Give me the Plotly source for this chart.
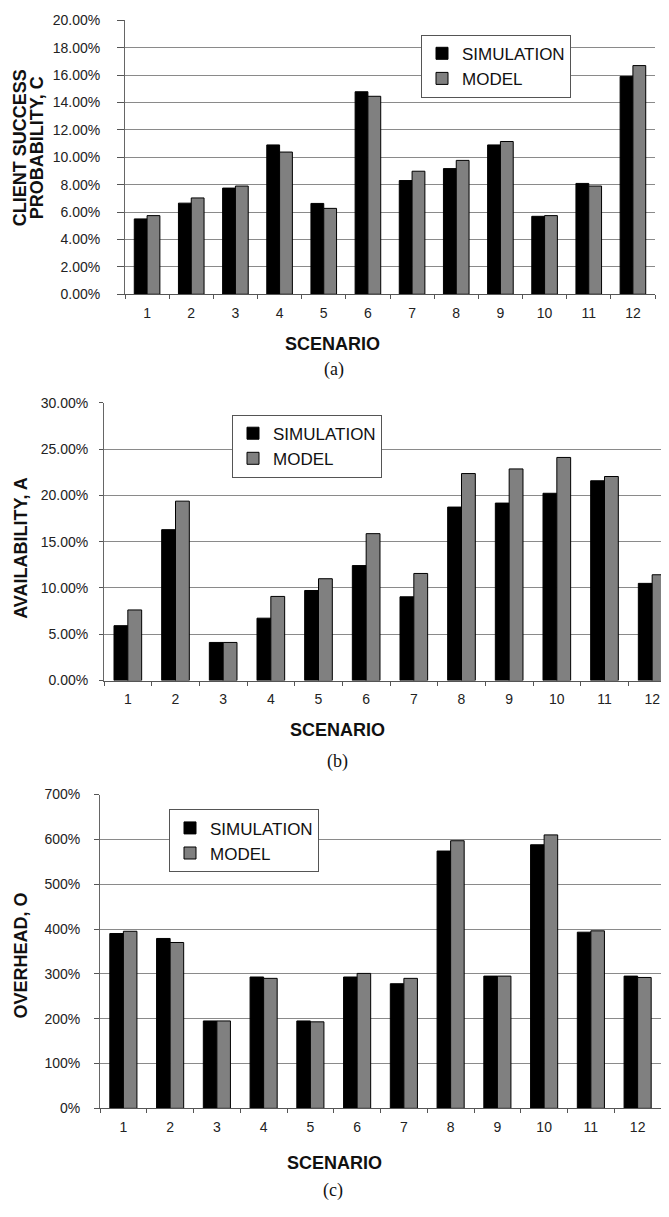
import plotly.graph_objects as go

# page body has an 8px default margin, so the figure is sized to fill the window from there
OFF = 8
W, H = 669 - OFF, 1217 - OFF

scenarios = [str(i) for i in range(1, 13)]

# (a) client success probability, C (%)
succ_sim = [5.5, 6.65, 7.75, 10.9, 6.63, 14.78, 8.3, 9.17, 10.9, 5.69, 8.09, 15.9]
succ_model = [5.74, 7.03, 7.9, 10.38, 6.27, 14.45, 8.98, 9.77, 11.15, 5.74, 7.9, 16.69]

# (b) availability, A (%)
avail_sim = [5.93, 16.3, 4.12, 6.74, 9.73, 12.42, 9.05, 18.74, 19.17, 20.23, 21.58, 10.5]
avail_model = [7.63, 19.38, 4.12, 9.09, 11.0, 15.87, 11.57, 22.36, 22.86, 24.1, 22.04, 11.43]

# (c) overhead, O (%)
over_sim = [390, 379, 195, 293, 195, 293, 278, 574, 295, 588, 393, 295]
over_model = [395, 370, 195, 290, 193, 301, 290, 597, 295, 610, 396, 292]

SIM_COLOR = "#000000"
MODEL_COLOR = "#808080"
TXT = "#222222"
FONT = "Liberation Sans, Arial, sans-serif"
SERIF = "Liberation Serif, Times New Roman, serif"


def px_x(p):
    return (p - OFF) / W


def px_y(p):
    return 1 - (p - OFF) / H


fig = go.Figure()

panels = [
    dict(sim=succ_sim, model=succ_model, x0=125, x1=655, y0=12.3, y1=290,
         rng=[0, 20], dtick=2, fmt=".2f", leg=(421, 27), ticklen=7, ystand=14,
         xrange=[-0.5, 11.5]),
    dict(sim=avail_sim, model=avail_model, x0=104, x1=669, y0=400, y1=681.5,
         rng=[0, 30], dtick=5, fmt=".2f", leg=(232, 412), ticklen=4, ystand=8,
         xrange=[-0.5, 11.5 - 7 / 47.7]),
    dict(sim=over_sim, model=over_model, x0=100, x1=661, y0=797, y1=1115,
         rng=[0, 700], dtick=100, fmt="d", leg=(169, 812), ticklen=5, ystand=11,
         xrange=[-0.5, 11.5]),
]

for i, p in enumerate(panels):
    n = "" if i == 0 else str(i + 1)
    xa = "x" + n
    ya = "y" + n
    lg = "legend" + n
    fig.add_trace(go.Bar(x=scenarios, y=p["sim"], name="SIMULATION", xaxis=xa, yaxis=ya,
                         marker=dict(color=SIM_COLOR, line=dict(color="#000000", width=1)),
                         legend=lg))
    fig.add_trace(go.Bar(x=scenarios, y=p["model"], name="MODEL", xaxis=xa, yaxis=ya,
                         marker=dict(color=MODEL_COLOR, line=dict(color="#000000", width=1)),
                         legend=lg))
    fig.layout["xaxis" + n] = dict(
        domain=[px_x(p["x0"]), min(1.0, px_x(p["x1"]))], anchor=ya, type="category",
        range=p["xrange"], showgrid=False, showline=True, linecolor="#555555", linewidth=1,
        ticks="outside", tickson="boundaries", ticklen=4, tickcolor="#555555",
        tickfont=dict(family=FONT, size=14, color=TXT), ticklabelstandoff=6,
        fixedrange=True,
    )
    fig.layout["yaxis" + n] = dict(
        domain=[px_y(p["y1"]), px_y(p["y0"])], anchor=xa, range=p["rng"], dtick=p["dtick"],
        tickformat=p["fmt"], ticksuffix="%", showgrid=True, gridcolor="#8a8a8a", gridwidth=1,
        showline=True, linecolor="#666666", linewidth=1, zeroline=False,
        ticks="outside", ticklen=p["ticklen"], tickcolor="#555555",
        tickfont=dict(family=FONT, size=14, color=TXT), ticklabelstandoff=p["ystand"],
        fixedrange=True,
    )
    fig.layout[lg] = dict(
        x=px_x(p["leg"][0]), y=px_y(p["leg"][1]), xanchor="left", yanchor="top",
        bgcolor="#ffffff", bordercolor="#555555", borderwidth=1,
        font=dict(family=FONT, size=17, color="#111111"),
        itemwidth=30, tracegroupgap=0,
    )

annos = [
    dict(text="<b>SCENARIO</b>", x=332, y=340, size=18, fam=FONT, ang=0),
    dict(text="(a)", x=334, y=366, size=18, fam=SERIF, ang=0),
    dict(text="<b>SCENARIO</b>", x=337, y=732, size=18, fam=FONT, ang=0),
    dict(text="(b)", x=337, y=764, size=18, fam=SERIF, ang=0),
    dict(text="<b>SCENARIO</b>", x=334, y=1170, size=18, fam=FONT, ang=0),
    dict(text="(c)", x=333, y=1198, size=18, fam=SERIF, ang=0),
    dict(text="<b>CLIENT SUCCESS</b>", x=20, y=142, size=18, fam=FONT, ang=-90),
    dict(text="<b>PROBABILITY, C</b>", x=37, y=142, size=18, fam=FONT, ang=-90),
    dict(text="<b>AVAILABILITY, A</b>", x=21, y=547, size=18, fam=FONT, ang=-90),
    dict(text="<b>OVERHEAD, O</b>", x=21, y=960, size=18, fam=FONT, ang=-90),
]
for a in annos:
    fig.add_annotation(text=a["text"], x=px_x(a["x"]), y=px_y(a["y"]), xref="paper", yref="paper",
                       xanchor="center", yanchor="middle", showarrow=False, textangle=a["ang"],
                       font=dict(family=a["fam"], size=a["size"], color="#111111"))

fig.update_layout(
    width=W, height=H, margin=dict(l=0, r=0, t=0, b=0),
    paper_bgcolor="#ffffff", plot_bgcolor="#ffffff",
    barmode="group", bargap=0.42, bargroupgap=0,
    showlegend=True,
)

fig.write_html("out.html")
